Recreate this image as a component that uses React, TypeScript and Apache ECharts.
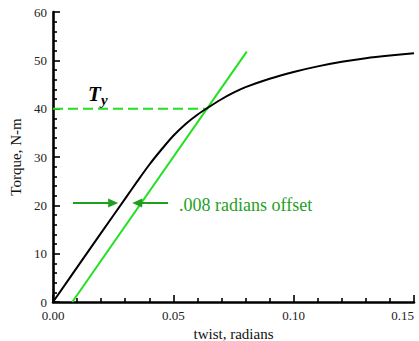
import React, { useEffect, useRef } from "react";
import * as echarts from "echarts";

// Torque–twist curve (twist in radians, torque in N-m)
const curveTwist = [0, 0.01, 0.02, 0.03, 0.035, 0.04, 0.045, 0.05, 0.055, 0.06, 0.065, 0.07, 0.075, 0.08, 0.09, 0.1, 0.11, 0.12, 0.13, 0.14, 0.15];
const curveTorque = [0, 7.15, 14.3, 21.4, 24.95, 28.4, 31.5, 34.4, 36.8, 38.75, 40.4, 41.95, 43.3, 44.45, 46.2, 47.6, 48.75, 49.7, 50.45, 51.0, 51.45];

// Offset line (0.008 rad offset, parallel to elastic slope)
const offsetTwist = [0.008, 0.0805];
const offsetTorque = [0, 51.8];

// Yield torque dashed line
const yieldTwist = [0, 0.0645];
const yieldTorque = [40, 40];

// Arrow annotations (data coordinates)
const arrowY = 20.5;
const leftArrow = [0.0083, 0.025];
const rightArrow = [0.0478, 0.035];

const xTicks = [0, 0.05, 0.1, 0.15];
const yTicks = [0, 10, 20, 30, 40, 50, 60];

const SERIF = "'Liberation Serif', 'DejaVu Serif', serif";
const BRIGHT = "#22e022";
const DARK = "#1f9f1f";

export default function App() {
  const ref = useRef<HTMLDivElement>(null);
  useEffect(() => {
    if (!ref.current) return;
    const chart = echarts.init(ref.current, null, { renderer: "svg" });
    const zip = (a: number[], b: number[]) => a.map((v, i) => [v, b[i]]);
    chart.setOption({
      animation: false,
      grid: { left: 53, right: 5, top: 12, bottom: 39, outerBoundsMode: "none", containLabel: false },
      xAxis: {
        type: "value",
        min: xTicks[0],
        max: xTicks[xTicks.length - 1],
        interval: 0.05,
        name: "twist, radians",
        nameLocation: "middle",
        nameGap: 21,
        nameTextStyle: { fontFamily: SERIF, fontSize: 15, color: "#111" },
        axisLine: { lineStyle: { color: "#000", width: 2.6 } },
        axisTick: { inside: true, length: 7, lineStyle: { color: "#000", width: 1.6 } },
        minorTick: { show: true, splitNumber: 5, length: 4, lineStyle: { color: "#000", width: 1.6 } },
        splitLine: { show: false },
        axisLabel: {
          fontFamily: SERIF,
          fontSize: 13,
          color: "#222",
          margin: 7,
          alignMaxLabel: "right",
          formatter: (v: number) => v.toFixed(2),
        },
      },
      yAxis: {
        type: "value",
        min: yTicks[0],
        max: yTicks[yTicks.length - 1],
        interval: 10,
        name: "Torque, N-m",
        nameLocation: "middle",
        nameGap: 27,
        nameTextStyle: { fontFamily: SERIF, fontSize: 15, color: "#111" },
        axisLine: { show: true, lineStyle: { color: "#000", width: 2.6 } },
        axisTick: { show: true, inside: true, length: 7, lineStyle: { color: "#000", width: 1.6 } },
        minorTick: { show: true, splitNumber: 5, length: 4, lineStyle: { color: "#000", width: 1.6 } },
        splitLine: { show: false },
        axisLabel: { fontFamily: SERIF, fontSize: 13, color: "#222", margin: 6 },
      },
      series: [
        {
          type: "line",
          data: zip(yieldTwist, yieldTorque),
          showSymbol: false,
          lineStyle: { color: BRIGHT, width: 2, type: [10, 5] },
          z: 1,
        },
        {
          type: "line",
          data: zip(offsetTwist, offsetTorque),
          showSymbol: false,
          lineStyle: { color: BRIGHT, width: 2 },
          z: 2,
          markLine: {
            silent: true,
            label: { show: false },
            lineStyle: { color: DARK, width: 2, type: "solid" },
            symbol: ["none", "triangle"],
            symbolSize: [9, 10],
            data: [
              [{ coord: [leftArrow[0], arrowY] }, { coord: [leftArrow[1], arrowY] }],
              [{ coord: [rightArrow[0], arrowY] }, { coord: [rightArrow[1], arrowY] }],
            ],
          },
        },
        {
          type: "line",
          data: zip(curveTwist, curveTorque),
          smooth: 0.3,
          showSymbol: false,
          lineStyle: { color: "#000", width: 2 },
          z: 3,
        },
      ],
      graphic: [
        {
          type: "text",
          left: 88,
          top: 83,
          style: { text: "T", font: `italic bold 21px ${SERIF}`, fill: "#000" },
        },
        {
          type: "text",
          left: 101,
          top: 92,
          style: { text: "y", font: `italic bold 15px ${SERIF}`, fill: "#000" },
        },
        {
          type: "text",
          left: 179,
          top: 196,
          style: { text: ".008 radians offset", font: `18px ${SERIF}`, fill: DARK },
        },
      ],
    });
    return () => chart.dispose();
  }, []);
  return <div ref={ref} style={{ width: 419, height: 341, position: "absolute", left: 0, top: 0 }} />;
}
